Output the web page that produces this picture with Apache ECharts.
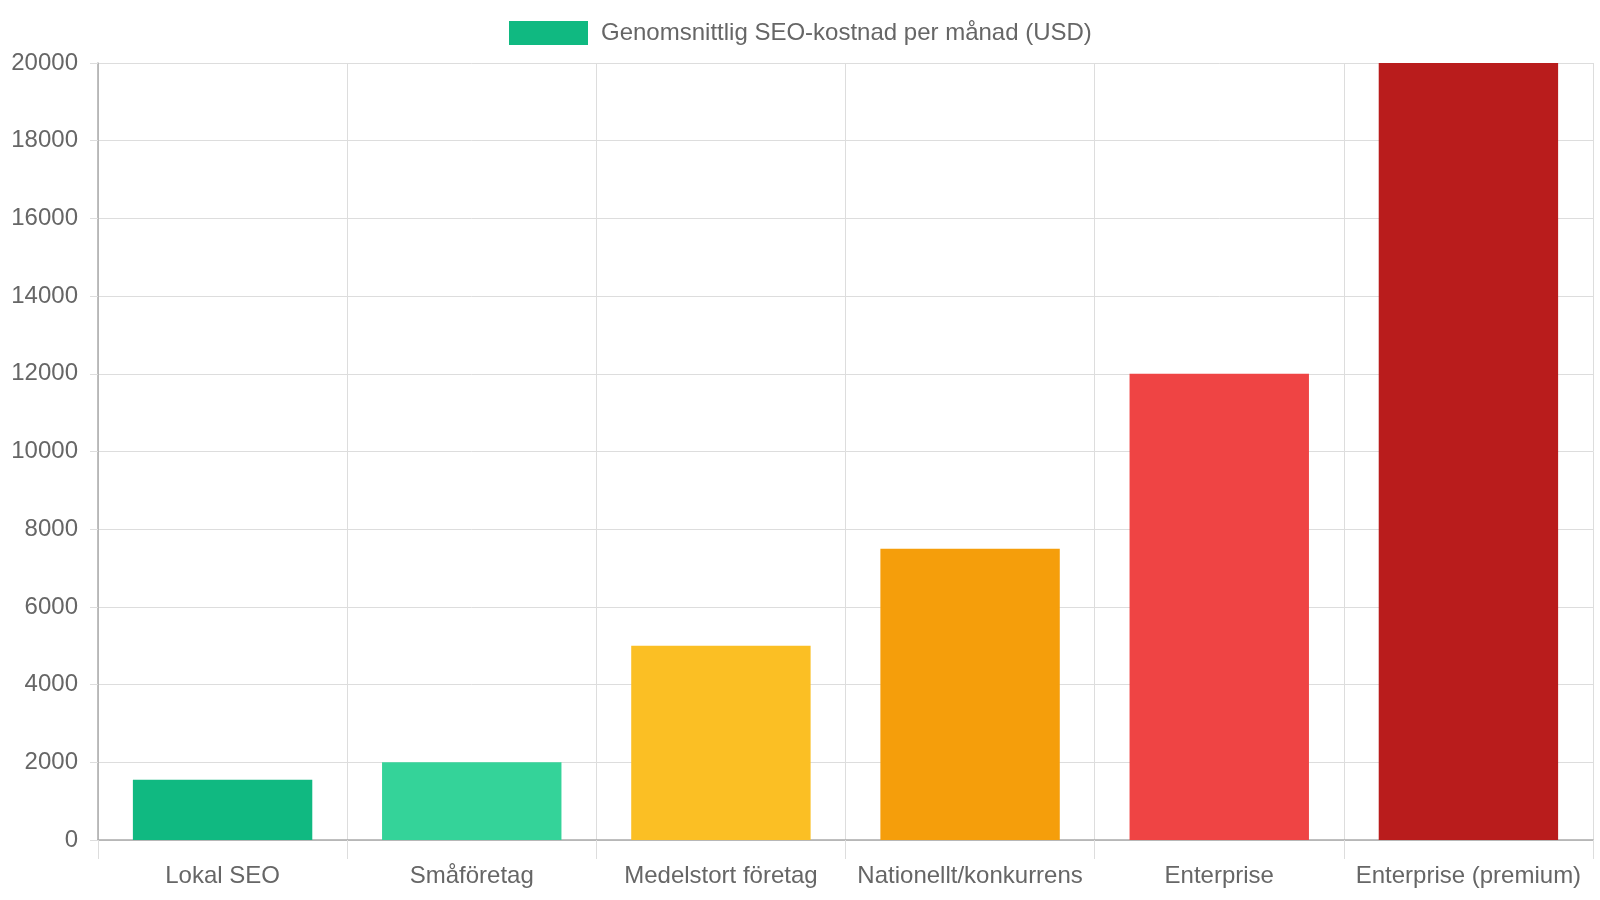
<!DOCTYPE html>
<html>
<head>
<meta charset="utf-8">
<script src="https://cdn.jsdelivr.net/npm/echarts@6/dist/echarts.min.js"></script>
<style>
  html, body { margin: 0; padding: 0; background: #fff; }
  #chart { width: 1600px; height: 900px; }
</style>
</head>
<body>
<div id="chart"></div>
<script>
// kategorier och värden
const categories = ['Lokal SEO', 'Småföretag', 'Medelstort företag', 'Nationellt/konkurrens', 'Enterprise', 'Enterprise (premium)'];
const costs = [1550, 2000, 5000, 7500, 12000, 20000];
const barColors = ['#10b981', '#34d399', '#fbbf24', '#f59e0b', '#ef4444', '#b91c1c'];
const seriesName = 'Genomsnittlig SEO-kostnad per månad (USD)';

const fontFamily = '"Liberation Sans", Arial, sans-serif';
const chart = echarts.init(document.getElementById('chart'));

chart.setOption({
    animation: false,
    legend: {
        top: 16,
        left: 504,
        itemWidth: 79,
        itemHeight: 24,
        icon: 'rect',
        textStyle: { color: '#666', fontSize: 24, fontFamily: fontFamily, padding: [0, 0, 0, 8] },
        data: [seriesName]
    },
    grid: { left: 98, right: 7, top: 63, bottom: 60, containLabel: false },
    xAxis: {
        type: 'category',
        data: categories,
        boundaryGap: true,
        axisLine: { show: true, lineStyle: { color: '#aaa', width: 1.5 } },
        axisTick: { show: true, length: 19, interval: 0, lineStyle: { color: '#ddd' } },
        axisLabel: { color: '#666', fontSize: 24, fontFamily: fontFamily, margin: 24, interval: 0 },
        splitLine: { show: true, interval: 0, lineStyle: { color: '#ddd' } }
    },
    yAxis: {
        type: 'value',
        min: 0,
        max: 20000,
        interval: 2000,
        axisLine: { show: true, lineStyle: { color: '#aaa', width: 1.5 } },
        axisTick: { show: true, length: 8, lineStyle: { color: '#ddd' } },
        axisLabel: { color: '#666', fontSize: 24, fontFamily: fontFamily, margin: 20, formatter: v => String(v) },
        splitLine: { show: true, lineStyle: { color: '#ddd' } }
    },
    series: [{
        name: seriesName,
        type: 'bar',
        barWidth: '72%',
        itemStyle: { color: barColors[0] },
        data: costs.map((v, i) => ({ value: v, itemStyle: { color: barColors[i] } }))
    }]
});
</script>
</body>
</html>
